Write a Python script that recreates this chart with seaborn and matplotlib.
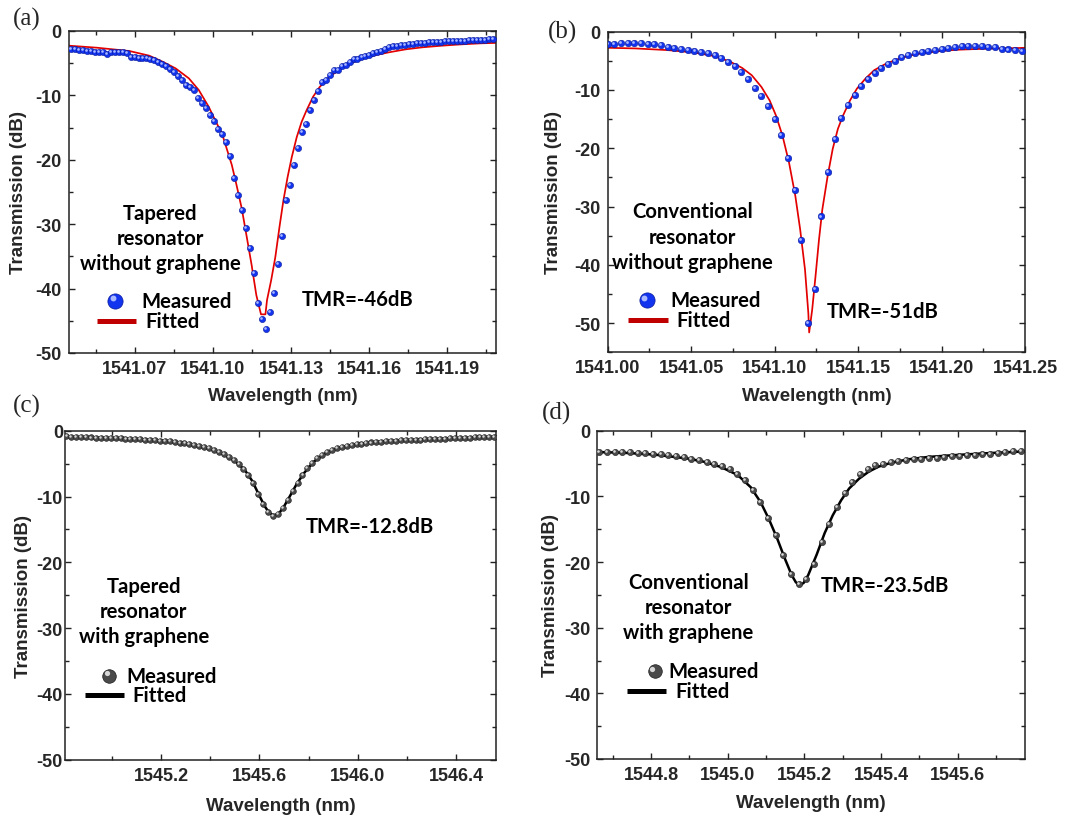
import numpy as np
import matplotlib
matplotlib.use("Agg")
import matplotlib.pyplot as plt
import matplotlib.transforms as mtransforms
import seaborn as sns

# ---------------- data ----------------
# (a) tapered resonator without graphene
a_meas_range = (1541.0455, 1541.2075)
a_meas_y = [-2.80, -2.85, -2.90, -3.00, -3.10, -3.16, -3.21, -3.26, -3.31, -3.52,
            -3.31, -3.31, -3.31, -3.31, -3.36, -3.99, -4.09, -4.14, -4.19, -4.24,
            -4.30, -4.45, -4.76, -5.07, -5.43, -5.90, -6.37, -6.99, -7.61, -8.39,
            -8.75, -9.11, -10.46, -11.23, -12.00, -13.04, -13.98, -15.27, -15.99, -17.29,
            -19.36, -22.77, -25.47, -27.80, -30.54, -33.75, -37.63, -42.20, -44.77,
            -46.30, -43.70, -40.70, -36.25, -31.85, -26.30, -23.90, -20.80, -18.15, -15.65,
            -14.50, -12.30, -10.70, -9.30, -7.85, -7.60, -6.85, -6.06, -6.05, -5.50,
            -5.28, -4.87, -4.40, -4.30, -4.04, -3.83, -3.67, -3.47, -3.31, -3.11,
            -2.80, -2.48, -2.38, -2.28, -2.17, -2.12, -2.02, -1.97, -1.91, -1.86,
            -1.81, -1.76, -1.71, -1.71, -1.66, -1.60, -1.60, -1.55, -1.55, -1.50,
            -1.50, -1.45, -1.40, -1.40, -1.35, -1.35, -1.29, -1.24]
a_fit_x = [1541.0448, 1541.0554, 1541.0680, 1541.0756, 1541.0807, 1541.0857, 1541.0908,
           1541.0946, 1541.0984, 1541.1015, 1541.1035, 1541.1053, 1541.1073, 1541.1091,
           1541.1111, 1541.1129, 1541.1149, 1541.1167, 1541.1185, 1541.1202, 1541.1208,
           1541.1224, 1541.1240, 1541.1256, 1541.1271, 1541.1287, 1541.1303, 1541.1322,
           1541.1341, 1541.1360, 1541.1385, 1541.1410, 1541.1448, 1541.1486, 1541.1524,
           1541.1575, 1541.1626, 1541.1676, 1541.1740, 1541.1803, 1541.1879, 1541.1955,
           1541.2031, 1541.2087]
a_fit_y = [-2.28, -2.59, -3.11, -3.83, -4.76, -5.80, -7.35, -9.16, -11.75, -14.34,
           -15.89, -18.22, -20.81, -23.91, -27.54, -31.68, -36.34, -41.00, -44.0, -44.0,
           -41.8, -38.7, -35.1, -30.4, -26.3, -22.7, -19.6, -16.5, -14.1, -12.3,
           -10.2, -8.7, -7.1, -6.0, -5.07, -4.30, -3.73, -3.31, -2.85, -2.54,
           -2.28, -2.07, -1.91, -1.85]

# (b) conventional resonator without graphene
b_meas_range = (1541.000, 1541.248)
b_meas_y = [-2.18, -2.07, -1.95, -1.90, -1.90, -1.95, -2.07, -2.18, -2.30, -2.59,
            -2.82, -2.99, -3.22, -3.33, -3.45, -3.68, -4.02, -4.54, -5.17, -5.92,
            -6.90, -8.16, -9.60, -11.03, -12.82, -14.94, -17.64, -21.67, -27.18, -35.69,
            -50.0,
            -44.2, -31.7, -24.0, -18.4, -14.8, -12.5, -10.8, -9.35, -8.05, -7.1,
            -6.3, -5.55, -4.95, -4.4, -3.95, -3.65, -3.5, -3.35, -3.15, -3.0,
            -2.85, -2.65, -2.5, -2.45, -2.45, -2.45, -2.55, -2.7, -2.9, -3.05,
            -3.2, -3.25]
b_fit_x = [1541.000, 1541.0166, 1541.0360, 1541.0515, 1541.0631, 1541.0728, 1541.0805,
           1541.0863, 1541.0921, 1541.0970, 1541.1008, 1541.1047, 1541.1086, 1541.1124,
           1541.1153, 1541.1182, 1541.1202, 1541.1207, 1541.1225, 1541.1245, 1541.1266,
           1541.1286, 1541.1318, 1541.1348, 1541.1379, 1541.1410, 1541.1452, 1541.1493,
           1541.1544, 1541.1596, 1541.1658, 1541.1720, 1541.1802, 1541.1884, 1541.1988,
           1541.2091, 1541.2194, 1541.2318, 1541.2441, 1541.2500]
b_fit_y = [-2.76, -2.87, -3.16, -3.56, -4.14, -5.06, -6.21, -7.47, -9.48, -11.78,
           -14.37, -17.82, -22.41, -28.16, -33.91, -40.80, -48.28, -51.6, -47.7, -41.95,
           -35.63, -30.46, -24.71, -20.11, -16.67, -14.37, -11.78, -9.77, -8.05, -6.61,
           -5.63, -4.89, -4.14, -3.68, -3.33, -3.10, -2.99, -2.87, -2.82, -2.76]

# (c) tapered resonator with graphene
c_meas_range = (1544.815, 1546.555)
c_meas_y = [-0.87, -0.90, -0.93, -0.96, -1.00, -1.03, -1.06, -1.08, -1.11, -1.13,
            -1.16, -1.18, -1.21, -1.24, -1.28, -1.32, -1.36, -1.40, -1.44, -1.49,
            -1.55, -1.63, -1.72, -1.82, -1.93, -2.05, -2.18, -2.33, -2.50, -2.68,
            -2.92, -3.22, -3.55, -3.95, -4.40, -5.00, -5.75, -6.70, -8.00, -9.60,
            -11.20, -12.30, -12.90, -12.60, -11.80, -10.60, -9.20, -7.90, -6.70, -5.70,
            -4.85, -4.20, -3.70, -3.30, -2.95, -2.70, -2.50, -2.33, -2.18, -2.05,
            -1.95, -1.87, -1.79, -1.72, -1.66, -1.61, -1.56, -1.52, -1.48, -1.45,
            -1.42, -1.38, -1.35, -1.32, -1.29, -1.26, -1.23, -1.20, -1.17, -1.14,
            -1.11, -1.08, -1.05, -1.02, -0.99, -0.96, -0.93, -0.91]
c_fit_x = [1544.809, 1545.0, 1545.2, 1545.3, 1545.4, 1545.45, 1545.5, 1545.54, 1545.57,
           1545.6, 1545.62, 1545.64, 1545.658, 1545.68, 1545.70, 1545.72, 1545.75, 1545.78,
           1545.82, 1545.87, 1545.92, 1546.0, 1546.1, 1546.2, 1546.35, 1546.561]
c_fit_y = [-0.95, -1.14, -1.48, -1.95, -2.72, -3.5, -4.6, -5.95, -7.6,
           -9.9, -11.4, -12.5, -12.9, -12.55, -11.5, -10.2, -8.2, -6.5,
           -4.75, -3.4, -2.65, -2.0, -1.62, -1.45, -1.22, -0.95]

# (d) conventional resonator with graphene
d_meas_range = (1544.665, 1545.765)
d_meas_y = [-3.25, -3.20, -3.20, -3.25, -3.30, -3.35, -3.40, -3.50, -3.60, -3.71,
            -3.81, -4.01, -4.31, -4.52, -4.82, -5.13, -5.43, -5.89, -6.65, -7.56,
            -8.98, -10.86, -13.25, -15.94, -18.98, -21.78, -23.30, -22.54, -20.25, -16.95,
            -14.16, -11.62, -9.49, -7.82, -6.55, -5.89, -5.28, -5.03, -4.82, -4.62,
            -4.42, -4.37, -4.31, -4.16, -4.11, -4.06, -3.91, -3.81, -3.76, -3.71,
            -3.60, -3.50, -3.40, -3.30, -3.15, -3.12]
d_fit_x = [1544.658, 1544.725, 1544.811, 1544.897, 1544.940, 1544.983, 1545.026, 1545.060,
           1545.086, 1545.107, 1545.129, 1545.150, 1545.167, 1545.178, 1545.188, 1545.198,
           1545.210, 1545.232, 1545.253, 1545.274, 1545.296, 1545.317, 1545.343, 1545.369,
           1545.395, 1545.429, 1545.472, 1545.523, 1545.583, 1545.669, 1545.776]
d_fit_y = [-3.25, -3.35, -3.65, -4.25, -4.75, -5.55, -6.75, -8.6,
           -10.9, -13.4, -16.4, -19.6, -22.0, -23.1, -23.5, -23.2,
           -22.0, -18.9, -15.6, -12.9, -10.6, -8.8, -7.3, -6.2,
           -5.45, -4.85, -4.35, -4.0, -3.75, -3.45, -3.15]

# ticks and labels
a_xticks = [1541.07, 1541.10, 1541.13, 1541.16, 1541.19]
a_xminor = [1541.055, 1541.085, 1541.115, 1541.145, 1541.175, 1541.205]
b_xticks = [1541.00, 1541.05, 1541.10, 1541.15, 1541.20, 1541.25]
b_xminor = [1541.025, 1541.075, 1541.125, 1541.175, 1541.225]
c_xticks = [1545.2, 1545.6, 1546.0, 1546.4]
c_xminor = [1545.0, 1545.4, 1545.8, 1546.2]
d_xticks = [1544.8, 1545.0, 1545.2, 1545.4, 1545.6]
d_xminor = [1544.7, 1544.9, 1545.1, 1545.3, 1545.5, 1545.7]
y_ticks = [0, -10, -20, -30, -40, -50]
y_minor = [-5, -15, -25, -35, -45, -55]

titles = ["Tapered\nresonator\nwithout graphene",
          "Conventional\nresonator\nwithout graphene",
          "Tapered\nresonator\nwith graphene",
          "Conventional\nresonator\nwith graphene"]
tmr_texts = ["TMR=-46dB", "TMR=-51dB", "TMR=-12.8dB", "TMR=-23.5dB"]
panel_tags = ["(a)", "(b)", "(c)", "(d)"]

# ---------------- style ----------------
sns.set_theme(style="ticks")
plt.rcParams["font.family"] = ["Liberation Sans", "DejaVu Sans"]
plt.rcParams["font.weight"] = "bold"
plt.rcParams["axes.labelweight"] = "bold"
plt.rcParams["axes.unicode_minus"] = False
ANN = ["Lato", "DejaVu Sans"]
ANN_SIZE = 14.6

fig = plt.figure(figsize=(10.8, 8.2), dpi=100)
fig.patch.set_facecolor("white")

axes_rects = [
    [69 / 1080, 1 - 354 / 820, 427 / 1080, 322 / 820],
    [607.7 / 1080, 1 - 353.3 / 820, 417.3 / 1080, 320.6 / 820],
    [65 / 1080, 1 - 760.7 / 820, 430.7 / 1080, 329 / 820],
    [596.7 / 1080, 1 - 760 / 820, 428.3 / 1080, 328.3 / 820],
]

panels = [
    dict(rng=a_meas_range, my=a_meas_y, fx=a_fit_x, fy=a_fit_y, xt=a_xticks, xm=a_xminor,
         fmt="%.2f", xlim=(1541.0448, 1541.2087), ylim=(-50, 0),
         dot="#1234ee", dot_edge="#0a1a9a", hi="#a9b8ff", line="#e30000", leg_line="#c00000",
         lw=1.25, s=20, leg_s=120, ypad=5.2, xlab_y=-0.133, ylab_x=-0.119,
         title_xy=(0.213, 0.357), dot_xy=(0.108, 0.163), meas_xy=(0.170, 0.163),
         line_x=(0.066, 0.157), line_y=0.099, fit_xy=(0.180, 0.099), tmr_xy=(0.545, 0.168)),
    dict(rng=b_meas_range, my=b_meas_y, fx=b_fit_x, fy=b_fit_y, xt=b_xticks, xm=b_xminor,
         fmt="%.2f", xlim=(1541.0, 1541.25), ylim=(-55, 0),
         dot="#1234ee", dot_edge="#0a1a9a", hi="#a9b8ff", line="#e30000", leg_line="#c00000",
         lw=1.25, s=22, leg_s=120, ypad=5.0, xlab_y=-0.135, ylab_x=-0.130,
         title_xy=(0.203, 0.361), dot_xy=(0.093, 0.163), meas_xy=(0.149, 0.163),
         line_x=(0.049, 0.144), line_y=0.101, fit_xy=(0.165, 0.101), tmr_xy=(0.525, 0.128)),
    dict(rng=c_meas_range, my=c_meas_y, fx=c_fit_x, fy=c_fit_y, xt=c_xticks, xm=c_xminor,
         fmt="%.1f", xlim=(1544.809, 1546.561), ylim=(-50, 0),
         dot="#4a4a4a", dot_edge="#1a1a1a", hi="#d8d8d8", line="#000000", leg_line="#000000",
         lw=1.8, s=17, leg_s=95, ypad=1.5, xlab_y=-0.140, ylab_x=-0.097,
         title_xy=(0.183, 0.453), dot_xy=(0.103, 0.255), meas_xy=(0.142, 0.255),
         line_x=(0.046, 0.137), line_y=0.197, fit_xy=(0.157, 0.197), tmr_xy=(0.559, 0.711)),
    dict(rng=d_meas_range, my=d_meas_y, fx=d_fit_x, fy=d_fit_y, xt=d_xticks, xm=d_xminor,
         fmt="%.1f", xlim=(1544.658, 1545.776), ylim=(-50, 0),
         dot="#4a4a4a", dot_edge="#1a1a1a", hi="#d8d8d8", line="#000000", leg_line="#000000",
         lw=1.8, s=20, leg_s=95, ypad=4.8, xlab_y=-0.132, ylab_x=-0.109,
         title_xy=(0.214, 0.462), dot_xy=(0.136, 0.267), meas_xy=(0.167, 0.267),
         line_x=(0.071, 0.162), line_y=0.206, fit_xy=(0.183, 0.206), tmr_xy=(0.523, 0.531)),
]

tag_xy = [(0.012, 0.976), (0.507, 0.960), (0.012, 0.504), (0.502, 0.496)]

hl_small = mtransforms.ScaledTranslation(-0.7 / 72, 0.7 / 72, fig.dpi_scale_trans)
hl_big = mtransforms.ScaledTranslation(-1.8 / 72, 1.8 / 72, fig.dpi_scale_trans)

for i, p in enumerate(panels):
    ax = fig.add_axes(axes_rects[i])
    mx = np.linspace(p["rng"][0], p["rng"][1], len(p["my"]))
    my = np.array(p["my"])
    sns.lineplot(x=p["fx"], y=p["fy"], ax=ax, color=p["line"], lw=p["lw"],
                 estimator=None, sort=False, zorder=2)
    sns.scatterplot(x=mx, y=my, ax=ax, color=p["dot"], s=p["s"],
                    edgecolor=p["dot_edge"], linewidth=0.4, zorder=3)
    ax.scatter(mx, my, s=p["s"] * 0.18, color=p["hi"], linewidths=0,
               transform=ax.transData + hl_small, zorder=4)

    ax.set_xlim(*p["xlim"])
    ax.set_ylim(*p["ylim"])
    ax.set_xticks(p["xt"])
    ax.set_xticklabels([p["fmt"] % v for v in p["xt"]])
    ax.set_xticks(p["xm"], minor=True)
    ax.set_yticks(y_ticks)
    ax.set_yticklabels([str(v) for v in y_ticks])
    ax.set_yticks([v for v in y_minor if v >= p["ylim"][0]], minor=True)
    ax.tick_params(which="both", direction="in", top=True, right=True,
                   width=1.0, color="#222222", labelsize=13)
    ax.tick_params(which="major", length=4.5)
    ax.tick_params(which="minor", length=3)
    ax.tick_params(axis="x", pad=5)
    ax.tick_params(axis="y", pad=p["ypad"])
    for sp in ax.spines.values():
        sp.set_linewidth(1.1)
        sp.set_color("#222222")
        sp.set_visible(True)

    ax.set_xlabel("Wavelength (nm)", fontsize=13.5, fontweight="bold")
    ax.set_ylabel("Transmission (dB)", fontsize=13.5, fontweight="bold")
    ax.xaxis.label.set_va("center")
    ax.yaxis.label.set_va("center")
    ax.xaxis.set_label_coords(0.5, p["xlab_y"])
    ax.yaxis.set_label_coords(p["ylab_x"], 0.5)

    # annotation
    ax.text(*p["title_xy"], titles[i], transform=ax.transAxes, ha="center", va="center",
            fontsize=ANN_SIZE, fontweight="bold", family=ANN, linespacing=1.32, color="black")
    ax.text(*p["tmr_xy"], tmr_texts[i], transform=ax.transAxes, ha="left", va="center",
            fontsize=ANN_SIZE, fontweight="bold", family=ANN, color="black")
    # manual legend
    ax.scatter([p["dot_xy"][0]], [p["dot_xy"][1]], transform=ax.transAxes, s=p["leg_s"],
               color=p["dot"], edgecolor=p["dot_edge"], linewidth=0.5, zorder=5, clip_on=False)
    ax.scatter([p["dot_xy"][0]], [p["dot_xy"][1]], transform=ax.transAxes + hl_big,
               s=p["leg_s"] * 0.15, color=p["hi"], linewidths=0, zorder=6, clip_on=False)
    ax.text(*p["meas_xy"], "Measured", transform=ax.transAxes, ha="left", va="center",
            fontsize=ANN_SIZE, fontweight="bold", family=ANN, color="black")
    ax.plot(list(p["line_x"]), [p["line_y"], p["line_y"]], transform=ax.transAxes,
            color=p["leg_line"], lw=3.6, solid_capstyle="butt", clip_on=False)
    ax.text(*p["fit_xy"], "Fitted", transform=ax.transAxes, ha="left", va="center",
            fontsize=ANN_SIZE, fontweight="bold", family=ANN, color="black")

    fig.text(*tag_xy[i], panel_tags[i], ha="left", va="center", fontsize=18,
             family=["Liberation Serif", "DejaVu Serif"], fontweight="normal")

fig.savefig("out.png", dpi=100, facecolor="white")
